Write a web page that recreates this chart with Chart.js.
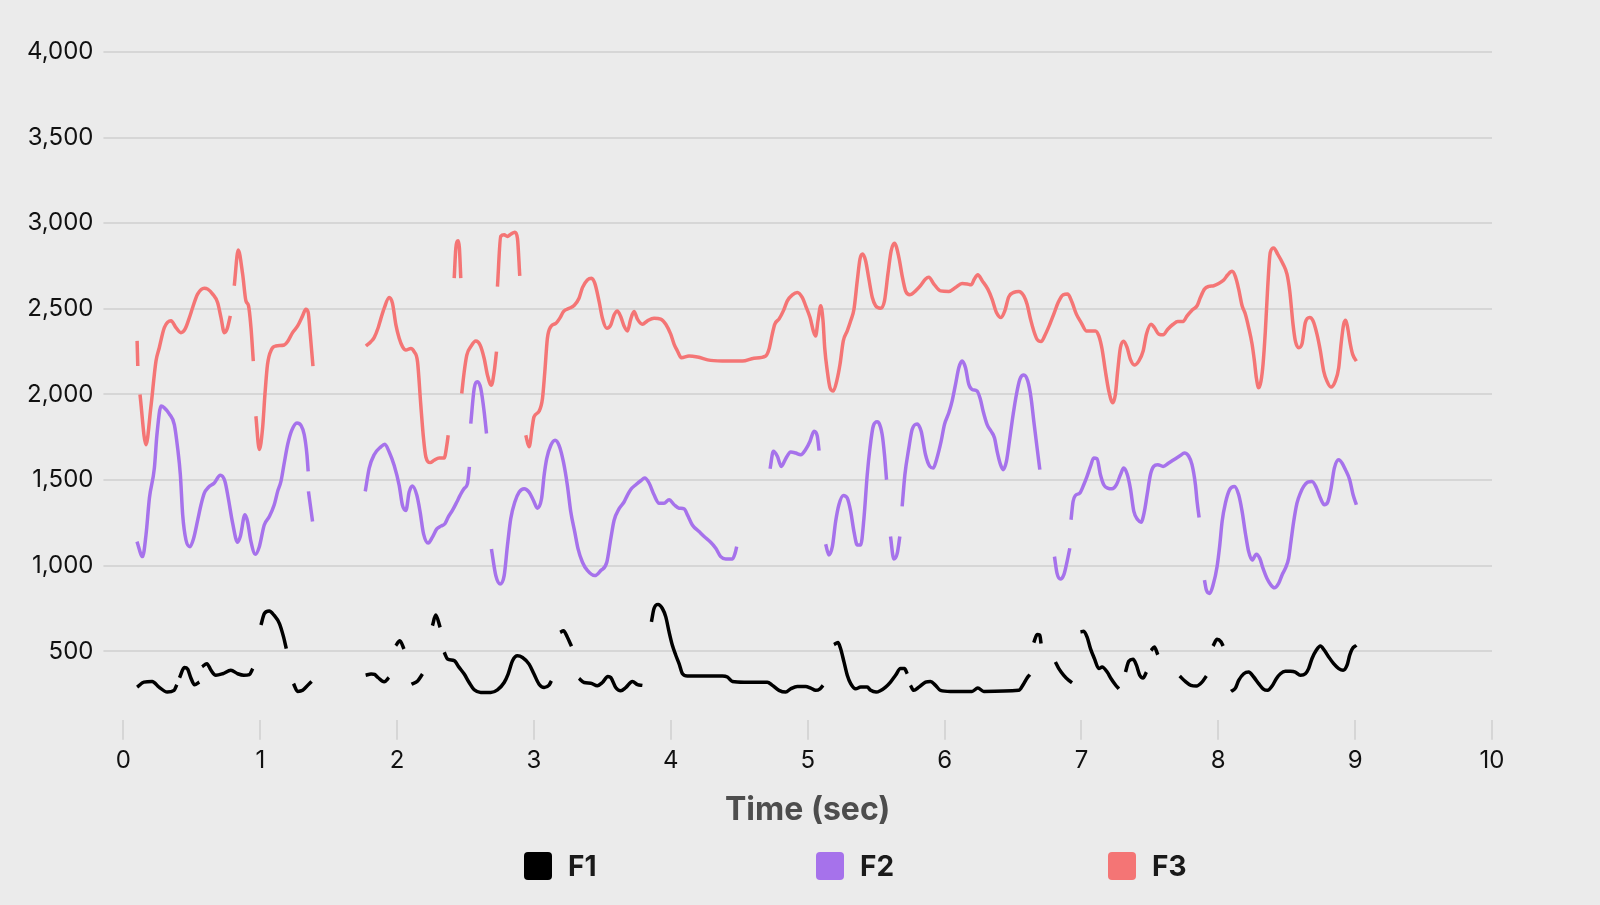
<!DOCTYPE html>
<html>
<head>
<meta charset="utf-8">
<script src="https://cdn.jsdelivr.net/npm/chart.js@4.4.1/dist/chart.umd.min.js"></script>
<style>
  html, body { margin: 0; padding: 0; background: #ebebeb; }
  #wrap { position: relative; width: 1600px; height: 905px; }
  #chart { position: absolute; left: 0; top: 0; }
  #legend { position: absolute; left: 0; top: 0; width: 1600px; height: 905px; pointer-events: none;
            font-family: Inter, "Noto Sans", sans-serif; }
  .item { position: absolute; display: flex; align-items: center; height: 28px; }
  .box { width: 28px; height: 28px; border-radius: 4px; margin-right: 16px; }
  .lbl { font-weight: 700; font-size: 28px; color: #1a1a1a; line-height: 28px; }
</style>
</head>
<body>
<div id="wrap">
  <canvas id="chart" width="1600" height="905"></canvas>
  <div id="legend"></div>
</div>
<script>
// ---- data: [time (s), frequency (Hz)], null = break in the track ----
const seriesNames = ['F1', 'F2', 'F3'];
const seriesColors = ['#000000', '#a672eb', '#f47575'];
const xTickValues = [0, 1, 2, 3, 4, 5, 6, 7, 8, 9, 10];
const yTickValues = [500, 1000, 1500, 2000, 2500, 3000, 3500, 4000];

const f1Points = [
  [0.10,291],[0.15,320],[0.21,324],[0.26,291],[0.32,262],[0.37,272],[0.39,305], null,
  [0.41,345],[0.445,405],[0.47,395],[0.49,350],[0.52,305],[0.555,320], null,
  [0.575,410],[0.61,428],[0.64,389],[0.675,360],[0.725,369],[0.785,389],[0.835,369],[0.88,360],[0.92,364],[0.945,399], null,
  [1.005,653],[1.03,721],[1.065,735],[1.10,711],[1.14,662],[1.17,584],[1.19,516], null,
  [1.243,311],[1.273,266],[1.31,272],[1.346,301],[1.375,324], null,
  [1.77,360],[1.81,368],[1.835,365],[1.86,347],[1.905,322],[1.94,347], null,
  [1.99,533],[2.02,562],[2.05,513], null,
  [2.105,308],[2.15,327],[2.185,367], null,
  [2.258,650],[2.282,712],[2.314,640], null,
  [2.344,494],[2.368,455],[2.417,445],[2.453,406],[2.49,367],[2.526,318],[2.563,275],[2.611,260],[2.684,260],[2.733,275],[2.782,318],[2.811,367],[2.843,445],[2.879,474],[2.916,464],[2.964,425],[3.0,367],[3.037,308],[3.074,289],[3.11,303],[3.127,327], null,
  [3.191,611],[3.215,620],[3.244,582],[3.274,529], null,
  [3.329,342],[3.366,318],[3.415,314],[3.463,299],[3.5,318],[3.54,353],[3.561,347],[3.597,289],[3.634,270],[3.67,288],[3.719,324],[3.756,305],[3.792,301], null,
  [3.858,672],[3.877,750],[3.907,774],[3.938,750],[3.963,701],[3.987,613],[4.011,535],[4.036,477],[4.06,428],[4.085,369],[4.121,356],[4.29,356],[4.377,356],[4.413,350],[4.45,324],[4.535,320],[4.705,320],[4.742,301],[4.79,272],[4.839,262],[4.876,281],[4.924,295],[4.985,295],[5.022,285],[5.058,272],[5.09,281],[5.112,301], null,
  [5.192,539],[5.221,551],[5.24,516],[5.265,438],[5.289,360],[5.314,311],[5.35,281],[5.387,291],[5.435,291],[5.46,272],[5.50,262],[5.53,270],[5.569,291],[5.605,320],[5.642,360],[5.678,399],[5.707,399],[5.727,369], null,
  [5.751,301],[5.775,272],[5.812,291],[5.861,320],[5.897,324],[5.934,301],[5.97,272],[6.043,266],[6.2,266],[6.243,285],[6.287,266],[6.542,272],[6.574,305],[6.603,344],[6.623,364], null,
  [6.652,551],[6.676,598],[6.696,594],[6.705,545], null,
  [6.81,438],[6.835,399],[6.871,360],[6.908,330],[6.932,317], null,
  [6.993,613],[7.017,617],[7.041,584],[7.066,516],[7.095,457],[7.127,399],[7.151,408],[7.188,379],[7.217,340],[7.248,305],[7.273,281], null,
  [7.322,379],[7.346,442],[7.377,454],[7.402,419],[7.426,360],[7.45,344],[7.475,379], null,
  [7.509,505],[7.533,525],[7.558,480], null,
  [7.718,356],[7.759,324],[7.8,301],[7.84,297],[7.881,320],[7.913,356], null,
  [7.962,531],[7.991,570],[8.02,555],[8.035,531], null,
  [8.093,266],[8.125,285],[8.149,330],[8.186,369],[8.222,379],[8.259,350],[8.295,311],[8.327,281],[8.361,272],[8.393,297],[8.424,340],[8.454,369],[8.49,383],[8.527,383],[8.563,379],[8.6,360],[8.636,369],[8.66,399],[8.685,458],[8.716,506],[8.746,531],[8.775,506],[8.807,467],[8.843,428],[8.88,399],[8.912,389],[8.941,419],[8.96,477],[8.977,512],[9.009,535]
];

const f2Points = [
  [0.099,1141],[0.14,1053],[0.165,1180],[0.19,1395],[0.226,1570],[0.245,1766],[0.275,1932],[0.299,1922],[0.335,1887],[0.372,1824],[0.396,1688],[0.416,1531],[0.433,1297],[0.457,1150],[0.486,1111],[0.513,1160],[0.543,1268],[0.567,1356],[0.591,1424],[0.62,1457],[0.664,1483],[0.708,1528],[0.742,1492],[0.766,1395],[0.798,1248],[0.834,1137],[0.854,1170],[0.888,1297],[0.907,1258],[0.932,1141],[0.964,1067],[0.993,1111],[1.029,1238],[1.066,1287],[1.102,1356],[1.127,1434],[1.151,1492],[1.175,1600],[1.2,1707],[1.229,1789],[1.268,1834],[1.297,1820],[1.321,1766],[1.341,1648],[1.35,1551], null,
  [1.352,1434],[1.382,1258], null,
  [1.767,1434],[1.796,1570],[1.832,1648],[1.881,1694],[1.91,1709],[1.942,1664],[1.978,1586],[2.015,1469],[2.039,1352],[2.064,1323],[2.088,1430],[2.112,1465],[2.144,1411],[2.168,1313],[2.193,1186],[2.227,1132],[2.258,1167],[2.29,1215],[2.32,1231],[2.349,1245],[2.373,1284],[2.404,1323],[2.436,1372],[2.46,1411],[2.489,1450],[2.514,1479],[2.528,1577], null,
  [2.538,1830],[2.563,2035],[2.587,2074],[2.611,2035],[2.636,1898],[2.653,1772], null,
  [2.689,1098],[2.721,942],[2.752,893],[2.782,942],[2.806,1118],[2.83,1274],[2.86,1372],[2.892,1430],[2.928,1450],[2.964,1430],[2.996,1381],[3.025,1336],[3.055,1391],[3.074,1528],[3.093,1625],[3.123,1703],[3.154,1733],[3.183,1703],[3.215,1606],[3.244,1469],[3.269,1313],[3.298,1196],[3.322,1098],[3.354,1020],[3.39,972],[3.444,942],[3.488,972],[3.532,1020],[3.561,1157],[3.585,1264],[3.622,1333],[3.658,1372],[3.682,1411],[3.707,1445],[3.744,1473],[3.78,1496],[3.809,1512],[3.841,1483],[3.877,1414],[3.914,1365],[3.95,1365],[3.987,1385],[4.024,1356],[4.06,1336],[4.097,1332],[4.121,1297],[4.157,1238],[4.206,1199],[4.243,1170],[4.291,1137],[4.328,1102],[4.364,1053],[4.401,1039],[4.45,1039],[4.469,1072],[4.481,1111], null,
  [4.725,1566],[4.749,1668],[4.778,1639],[4.807,1580],[4.839,1625],[4.876,1664],[4.912,1658],[4.949,1648],[4.985,1678],[5.017,1727],[5.046,1785],[5.07,1756],[5.083,1672], null,
  [5.131,1125],[5.155,1063],[5.18,1111],[5.204,1258],[5.228,1356],[5.26,1410],[5.289,1395],[5.314,1317],[5.338,1199],[5.362,1121],[5.387,1121],[5.411,1278],[5.435,1532],[5.455,1688],[5.479,1815],[5.508,1840],[5.52,1834],[5.544,1766],[5.561,1648],[5.576,1502], null,
  [5.605,1170],[5.629,1039],[5.654,1072],[5.673,1170], null,
  [5.69,1346],[5.71,1531],[5.739,1688],[5.763,1795],[5.8,1828],[5.829,1785],[5.861,1648],[5.892,1580],[5.917,1570],[5.941,1619],[5.975,1727],[5.999,1824],[6.031,1893],[6.055,1961],[6.08,2059],[6.104,2156],[6.128,2195],[6.153,2156],[6.177,2059],[6.201,2029],[6.238,2020],[6.262,1971],[6.282,1902],[6.311,1824],[6.34,1785],[6.365,1746],[6.384,1668],[6.409,1590],[6.428,1561],[6.452,1609],[6.477,1746],[6.501,1883],[6.525,2000],[6.55,2088],[6.579,2113],[6.608,2078],[6.632,1980],[6.652,1844],[6.676,1688],[6.696,1561], null,
  [6.803,1053],[6.822,955],[6.847,922],[6.871,946],[6.895,1024],[6.915,1102], null,
  [6.924,1268],[6.939,1375],[6.956,1410],[6.988,1424],[7.017,1473],[7.041,1522],[7.066,1580],[7.09,1629],[7.114,1625],[7.139,1531],[7.163,1473],[7.192,1453],[7.224,1449],[7.256,1473],[7.285,1531],[7.309,1570],[7.334,1535],[7.358,1450],[7.383,1317],[7.412,1268],[7.436,1254],[7.46,1317],[7.48,1414],[7.504,1531],[7.528,1580],[7.558,1590],[7.597,1580],[7.638,1600],[7.687,1625],[7.723,1643],[7.752,1658],[7.784,1639],[7.808,1590],[7.833,1473],[7.845,1375],[7.86,1281], null,
  [7.899,916],[7.913,858],[7.938,838],[7.962,887],[7.991,994],[8.011,1121],[8.028,1258],[8.052,1365],[8.083,1444],[8.118,1463],[8.149,1414],[8.174,1317],[8.198,1190],[8.222,1082],[8.247,1033],[8.278,1067],[8.303,1043],[8.327,984],[8.356,925],[8.385,887],[8.41,871],[8.441,897],[8.466,946],[8.49,984],[8.514,1043],[8.531,1141],[8.551,1258],[8.575,1365],[8.6,1424],[8.624,1463],[8.653,1488],[8.685,1492],[8.716,1457],[8.746,1395],[8.775,1356],[8.8,1372],[8.824,1453],[8.848,1570],[8.88,1619],[8.904,1600],[8.929,1561],[8.96,1502],[8.985,1414],[9.009,1356]
];

const f3Points = [
  [0.10,2313],[0.105,2166], null,
  [0.121,2000],[0.165,1707],[0.2,1922],[0.238,2195],[0.262,2273],[0.299,2390],[0.348,2430],[0.384,2390],[0.42,2361],[0.45,2381],[0.482,2449],[0.506,2508],[0.542,2586],[0.591,2621],[0.616,2615],[0.652,2586],[0.688,2537],[0.713,2449],[0.737,2361],[0.757,2381],[0.781,2459], null,
  [0.81,2635],[0.839,2844],[0.871,2703],[0.895,2547],[0.914,2518],[0.932,2391],[0.949,2195], null,
  [0.968,1873],[0.993,1678],[1.017,1805],[1.034,2000],[1.053,2176],[1.083,2264],[1.114,2283],[1.175,2289],[1.2,2309],[1.236,2361],[1.273,2400],[1.309,2459],[1.333,2498],[1.35,2479],[1.365,2352],[1.385,2166], null,
  [1.772,2283],[1.808,2308],[1.832,2332],[1.862,2391],[1.88,2440],[1.905,2503],[1.942,2566],[1.966,2532],[1.991,2406],[2.015,2328],[2.039,2279],[2.064,2259],[2.1,2269],[2.124,2250],[2.149,2191],[2.173,1937],[2.193,1742],[2.21,1635],[2.241,1602],[2.27,1616],[2.307,1629],[2.344,1629],[2.363,1703],[2.373,1762], null,
  [2.417,2679],[2.429,2854],[2.446,2897],[2.455,2854],[2.465,2679], null,
  [2.472,2006],[2.49,2132],[2.509,2230],[2.538,2279],[2.575,2312],[2.606,2289],[2.636,2210],[2.66,2113],[2.689,2054],[2.709,2132],[2.726,2250], null,
  [2.733,2630],[2.757,2923],[2.782,2932],[2.806,2923],[2.83,2936],[2.86,2948],[2.879,2913],[2.896,2692], null,
  [2.94,1762],[2.964,1694],[2.989,1820],[3.0,1869],[3.037,1902],[3.062,1976],[3.079,2132],[3.098,2328],[3.123,2396],[3.159,2415],[3.191,2449],[3.215,2484],[3.257,2503],[3.293,2519],[3.329,2562],[3.354,2624],[3.39,2669],[3.42,2679],[3.444,2650],[3.476,2542],[3.5,2445],[3.532,2386],[3.561,2406],[3.585,2464],[3.609,2488],[3.634,2454],[3.658,2400],[3.683,2371],[3.707,2440],[3.731,2484],[3.756,2440],[3.792,2410],[3.829,2430],[3.877,2445],[3.926,2440],[3.963,2410],[3.999,2352],[4.024,2293],[4.048,2254],[4.077,2215],[4.133,2225],[4.194,2219],[4.291,2199],[4.413,2195],[4.523,2195],[4.607,2211],[4.693,2225],[4.717,2264],[4.741,2352],[4.759,2410],[4.79,2440],[4.822,2488],[4.851,2547],[4.888,2582],[4.924,2596],[4.961,2566],[4.985,2518],[5.017,2449],[5.041,2371],[5.058,2342],[5.075,2430],[5.095,2518],[5.112,2430],[5.124,2274],[5.143,2137],[5.163,2039],[5.187,2020],[5.212,2078],[5.236,2176],[5.26,2313],[5.289,2371],[5.314,2430],[5.338,2498],[5.362,2664],[5.382,2791],[5.401,2820],[5.423,2781],[5.447,2674],[5.472,2566],[5.496,2518],[5.532,2504],[5.561,2547],[5.586,2703],[5.61,2840],[5.634,2883],[5.666,2801],[5.69,2693],[5.715,2605],[5.746,2582],[5.788,2605],[5.824,2635],[5.861,2674],[5.885,2684],[5.922,2645],[5.97,2605],[6.031,2602],[6.08,2625],[6.128,2648],[6.165,2645],[6.194,2640],[6.218,2674],[6.243,2699],[6.275,2664],[6.316,2615],[6.347,2557],[6.379,2479],[6.413,2449],[6.44,2488],[6.469,2570],[6.506,2596],[6.542,2602],[6.579,2576],[6.603,2527],[6.628,2440],[6.652,2371],[6.676,2322],[6.705,2309],[6.737,2352],[6.769,2410],[6.798,2469],[6.83,2537],[6.866,2582],[6.9,2586],[6.932,2537],[6.963,2469],[6.998,2420],[7.036,2371],[7.071,2371],[7.102,2371],[7.127,2342],[7.151,2264],[7.175,2137],[7.2,2020],[7.229,1951],[7.248,2000],[7.265,2137],[7.285,2274],[7.309,2311],[7.334,2273],[7.358,2205],[7.387,2172],[7.419,2195],[7.451,2254],[7.475,2352],[7.509,2410],[7.533,2391],[7.565,2352],[7.597,2348],[7.631,2381],[7.67,2410],[7.704,2426],[7.743,2426],[7.772,2459],[7.808,2492],[7.845,2518],[7.869,2566],[7.899,2615],[7.93,2631],[7.967,2635],[8.003,2648],[8.04,2668],[8.069,2699],[8.101,2719],[8.125,2688],[8.149,2615],[8.174,2518],[8.198,2469],[8.222,2391],[8.247,2293],[8.264,2195],[8.278,2098],[8.295,2039],[8.312,2078],[8.327,2176],[8.344,2371],[8.361,2625],[8.38,2830],[8.405,2855],[8.434,2820],[8.473,2762],[8.502,2703],[8.522,2605],[8.546,2410],[8.563,2313],[8.588,2273],[8.612,2297],[8.636,2420],[8.668,2449],[8.692,2430],[8.721,2352],[8.746,2254],[8.77,2137],[8.794,2078],[8.823,2043],[8.855,2078],[8.88,2156],[8.897,2293],[8.916,2410],[8.931,2434],[8.945,2391],[8.965,2293],[8.982,2234],[9.009,2195]
];

// convert [t, hz] pairs into Chart.js points; null -> gap
function toPoints(list) {
  const out = [];
  let lastT = 0;
  for (const p of list) {
    if (p === null) { out.push({ x: lastT, y: null }); }
    else { out.push({ x: p[0], y: p[1] }); lastT = p[0]; }
  }
  return out;
}

const seriesPoints = [f1Points, f2Points, f3Points];
const FONT = 'Inter, "Noto Sans", sans-serif';

const datasets = seriesNames.map((name, i) => ({
  label: name,
  data: toPoints(seriesPoints[i]),
  borderColor: seriesColors[i],
  backgroundColor: seriesColors[i],
  borderWidth: 3.5,
  pointRadius: 0,
  pointHoverRadius: 0,
  fill: false,
  spanGaps: false,
  cubicInterpolationMode: 'monotone',
  borderJoinStyle: 'round'
}));

const chart = new Chart(document.getElementById('chart'), {
  type: 'line',
  data: { datasets },
  options: {
    responsive: false,
    animation: false,
    layout: { padding: { left: 17, right: 108, top: 52, bottom: 75 } },
    plugins: {
      legend: { display: false },
      tooltip: { enabled: false }
    },
    scales: {
      x: {
        type: 'linear',
        min: 0, max: 10,
        afterBuildTicks: (s) => { s.ticks = xTickValues.map(v => ({ value: v })); },
        ticks: { font: { family: FONT, size: 24 }, color: '#111111', padding: 7 },
        grid: { drawOnChartArea: false, tickLength: 20, color: '#d6d6d6', lineWidth: 2 },
        border: { display: false },
        title: {
          display: true, text: 'Time (sec)', color: '#4d4d4d',
          font: { family: FONT, size: 32, weight: 'bold' },
          padding: { top: 9, bottom: 0 }
        }
      },
      y: {
        type: 'linear',
        min: 100, max: 4000,
        afterBuildTicks: (s) => { s.ticks = yTickValues.map(v => ({ value: v })); },
        ticks: {
          font: { family: FONT, size: 24 }, color: '#111111', padding: 10,
          callback: (v) => Number(v).toLocaleString('en-US')
        },
        grid: { tickLength: 20, color: '#d6d6d6', lineWidth: 2 },
        border: { display: false }
      }
    }
  }
});

// HTML legend built from the chart's datasets
const legendEl = document.getElementById('legend');
const legendLeft = [524, 816, 1108];
chart.data.datasets.forEach((ds, i) => {
  const item = document.createElement('div');
  item.className = 'item';
  item.style.left = legendLeft[i] + 'px';
  item.style.top = '852px';
  const box = document.createElement('div');
  box.className = 'box';
  box.style.background = ds.borderColor;
  const lbl = document.createElement('span');
  lbl.className = 'lbl';
  lbl.textContent = ds.label;
  item.appendChild(box);
  item.appendChild(lbl);
  legendEl.appendChild(item);
});
</script>
</body>
</html>
